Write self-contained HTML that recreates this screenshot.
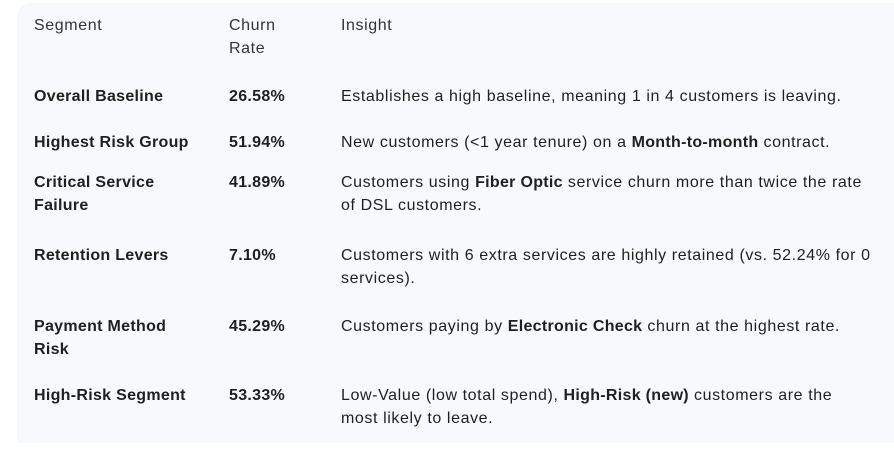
<!DOCTYPE html>
<html><head><meta charset="utf-8"><style>
html,body{margin:0;padding:0;width:894px;height:450px;background:#fff;overflow:hidden}
body{font-family:"Liberation Sans",sans-serif;font-size:16px;letter-spacing:0.6px;color:#1f1f1f;position:relative}
.panel{position:absolute;left:17px;top:3px;width:877px;height:440px;background:#f8f9fc;border-radius:14px 0 0 0}
.c{position:absolute;line-height:23px;white-space:nowrap}
b{font-weight:bold;letter-spacing:0.3px}
.h{color:#333}
</style></head><body>
<div class="panel"></div>
<div class="c h" style="left:34px;top:14px">Segment</div>
<div class="c h" style="left:229px;top:14px">Churn<br>Rate</div>
<div class="c h" style="left:341px;top:14px">Insight</div>

<div>
<div class="c" style="left:34px;top:85px"><b>Overall Baseline</b></div>
<div class="c" style="left:229px;top:85px"><b>26.58%</b></div>
<div class="c" style="left:341px;top:85px">Establishes a high baseline, meaning 1 in 4 customers is leaving.</div>
</div>
<div>
<div class="c" style="left:34px;top:131px"><b>Highest Risk Group</b></div>
<div class="c" style="left:229px;top:131px"><b>51.94%</b></div>
<div class="c" style="left:341px;top:131px">New customers (&lt;1 year tenure) on a <b>Month-to-month</b> contract.</div>
</div>
<div>
<div class="c" style="left:34px;top:171px"><b>Critical Service<br>Failure</b></div>
<div class="c" style="left:229px;top:171px"><b>41.89%</b></div>
<div class="c" style="left:341px;top:171px">Customers using <b>Fiber Optic</b> service churn more than twice the rate<br>of DSL customers.</div>
</div>
<div>
<div class="c" style="left:34px;top:244px"><b>Retention Levers</b></div>
<div class="c" style="left:229px;top:244px"><b>7.10%</b></div>
<div class="c" style="left:341px;top:244px">Customers with 6 extra services are highly retained (vs. 52.24% for 0<br>services).</div>
</div>
<div>
<div class="c" style="left:34px;top:315px"><b>Payment Method<br>Risk</b></div>
<div class="c" style="left:229px;top:315px"><b>45.29%</b></div>
<div class="c" style="left:341px;top:315px">Customers paying by <b>Electronic Check</b> churn at the highest rate.</div>
</div>
<div>
<div class="c" style="left:34px;top:384px"><b>High-Risk Segment</b></div>
<div class="c" style="left:229px;top:384px"><b>53.33%</b></div>
<div class="c" style="left:341px;top:384px">Low-Value (low total spend), <b>High-Risk (new)</b> customers are the<br>most likely to leave.</div>
</div>
</body></html>
